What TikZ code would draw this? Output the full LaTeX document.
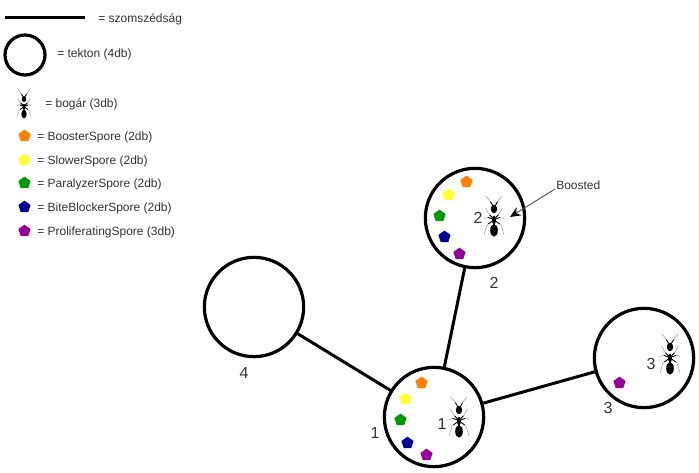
\documentclass[tikz,border=0pt]{standalone}
\usepackage{xcolor}
\usepackage{fontspec}
\setmainfont{Liberation Sans}
\usetikzlibrary{arrows.meta, shapes.geometric}
\definecolor{cbooster}{HTML}{FF8000}
\definecolor{cslower}{HTML}{FFFF33}
\definecolor{cparalyzer}{HTML}{009900}
\definecolor{cblocker}{HTML}{000099}
\definecolor{cprolif}{HTML}{990099}
\definecolor{cbk}{HTML}{333333}
\tikzset{
    tekton/.style={circle, draw=black, line width=2.4pt, fill=white, minimum size=74.5pt, inner sep=0pt},
    spore/.style={regular polygon, regular polygon sides=5, draw=none, inner sep=0pt, minimum size=9.6pt},
    legendtext/.style={anchor=west, inner sep=0pt, font=\fontsize{9}{11}\selectfont\color{cbk}},
    numtext/.style={inner sep=0pt, font=\fontsize{12}{14}\selectfont\color{cbk}},
    adjacent/.style={line width=2.25pt},
    antbig/.style={xscale=20, yscale=-20},
    antsmall/.style={xscale=14, yscale=-14},
    ant/.pic={
        \foreach \s in {-1,1} {
            \draw[gray!75, line width=0.4pt, xscale=\s]
                (0.05,0.50) -- (0.24,0.80) -- (0.40,1.00)
                (0.08,-0.08) -- (0.28,0.12) -- (0.42,0.40)
                (0.08,-0.15) -- (0.35,-0.05) -- (0.50,-0.15)
                (0.08,-0.25) -- (0.35,-0.45) -- (0.50,-0.95);
            \draw[black, line width=0.6pt, xscale=\s]
                (0.05,0.50) -- (0.18,0.72)
                (0.08,-0.08) -- (0.22,0.06)
                (0.08,-0.15) -- (0.30,-0.07)
                (0.08,-0.25) -- (0.28,-0.40);
        }
        \fill[black] (0,0.35) ellipse (0.16 and 0.21);
        \fill[black] (0,-0.20) ellipse (0.10 and 0.22);
        \fill[black] (0,-0.42) circle (0.05);
        \fill[black] (0,-0.72) ellipse (0.19 and 0.31);
    }
}

\begin{document}
\begin{tikzpicture}[x=0.75pt, y=-0.75pt]
    \useasboundingbox (0,0) rectangle (699,473);
    % legend
    \coordinate (la) at (5,18);
    \coordinate (lb) at (85,18);
    \draw[adjacent] (la) -- (lb);
    \node[legendtext] (t0) at (98,19.5) {= szomszédság};
    \node (c0) [tekton, minimum size=30pt] at (25,55) {};
    \node[legendtext] (t1) at (57,54) {= tekton (4db)};
    \pic[antsmall] at (24,104) {ant};
    \node[legendtext] (t2) at (45,104.5) {= bogár (3db)};
    \foreach \name/\col/\y/\txt in {lo/cbooster/136/= BoosterSpore (2db), ly/cslower/160/= SlowerSpore (2db),
        lg/cparalyzer/183/= ParalyzerSpore (2db), ln/cblocker/207/= BiteBlockerSpore (2db),
        lp/cprolif/231/= ProliferatingSpore (3db)} {
        \node (\name) [spore, fill=\col] at (24.5,\y) {};
        \node[legendtext] (\name t) at (37,\y+1.5) {\txt};
    }
    % tektons
    \node (k1) [tekton] at (434,417) {};
    \node (k2) [tekton] at (475,218) {};
    \node (k3) [tekton] at (644,358) {};
    \node (k4) [tekton] at (254,307) {};
    \draw[adjacent] (k2) -- (k1);
    \draw[adjacent] (k4) -- (k1);
    \draw[adjacent] (k1) -- (k3);
    \node[numtext] (n1) at (375,433) {1};
    \node[numtext] (n2) at (494,283) {2};
    \node[numtext] (n3) at (608,408) {3};
    \node[numtext] (n4) at (244,373) {4};
    % spores
    \foreach \name/\col/\x/\y in {ao/cbooster/421.5/383, ay/cslower/405.5/399, ag/cparalyzer/400.5/420,
        an/cblocker/407.5/443, ap/cprolif/426.5/455, bo/cbooster/466.5/182, by/cslower/448.5/195,
        bg/cparalyzer/439.5/216, bn/cblocker/444.5/237, bp/cprolif/459.5/254, cp/cprolif/619.5/383}
        \node (\name) [spore, fill=\col] at (\x,\y) {};
    % ants
    \pic[antbig] at (459,417) {ant};
    \pic[antbig] at (494,216) {ant};
    \pic[antbig] at (670,354) {ant};
    \node[numtext] (a1) at (442,424) {1};
    \node[numtext] (a2) at (478,218) {2};
    \node[numtext] (a3) at (651,364) {3};
    % boosted
    \node[legendtext] (bt) at (556,185) {Boosted};
    \coordinate (bf) at (555,189);
    \coordinate (bh) at (510,217);
    \draw[-{Stealth[black, length=8pt, width=7pt]}, draw=black!65, line width=0.75pt] (bf) -- (bh);
\end{tikzpicture}
\end{document}
